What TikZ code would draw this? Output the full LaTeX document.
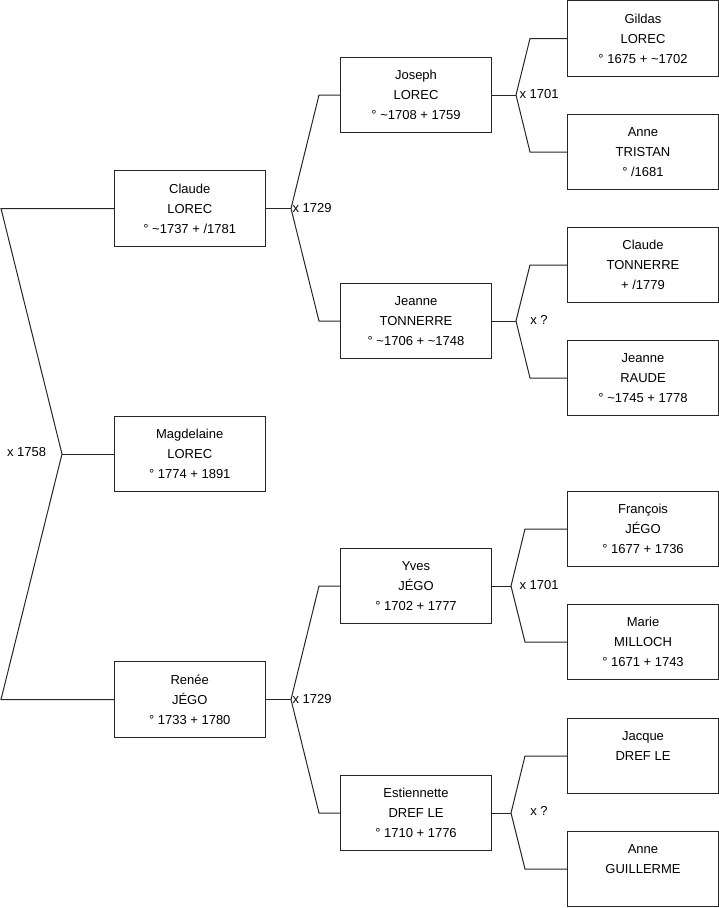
\documentclass[tikz,border=0pt]{standalone}
\usepackage{fontspec}
\setmainfont{Liberation Sans}
\begin{document}
\begin{tikzpicture}[x=1pt,y=-1pt,line width=1pt,black!85,
  every node/.style={font=\fontsize{13}{20}\selectfont,text=black},
  person/.style={draw,minimum width=151pt,minimum height=75.5pt,align=center,inner sep=0pt},
  union/.style={anchor=west,inner sep=1pt}]
\useasboundingbox (0,0) rectangle (719,908);
\node[person] (claude) at (189.75,208.5) {Claude\\LOREC\\° \textasciitilde1737 + /1781};
\node[person] (magd) at (189.75,454) {Magdelaine\\LOREC\\° 1774 + 1891};
\node[person] (renee) at (189.75,699.5) {Renée\\JÉGO\\° 1733 + 1780};
\node[person] (joseph) at (416,95) {Joseph\\LOREC\\° \textasciitilde1708 + 1759};
\node[person] (jeanne) at (416,321) {Jeanne\\TONNERRE\\° \textasciitilde1706 + \textasciitilde1748};
\node[person] (yves) at (416,586) {Yves\\JÉGO\\° 1702 + 1777};
\node[person] (estien) at (416,813) {Estiennette\\DREF LE\\° 1710 + 1776};
\node[person] (gildas) at (643,38.5) {Gildas\\LOREC\\° 1675 + \textasciitilde1702};
\node[person] (anne) at (643,152) {Anne\\TRISTAN\\° /1681};
\node[person] (claudet) at (643,265) {Claude\\TONNERRE\\+ /1779};
\node[person] (jeanner) at (643,378) {Jeanne\\RAUDE\\° \textasciitilde1745 + 1778};
\node[person] (francois) at (643,529) {François\\JÉGO\\° 1677 + 1736};
\node[person] (marie) at (643,642) {Marie\\MILLOCH\\° 1671 + 1743};
\node[person] (jacque) at (643,756) {Jacque\\DREF LE\\\mbox{}};
\node[person] (anneg) at (643,869) {Anne\\GUILLERME\\\mbox{}};
\coordinate (j0) at (62,454);
\coordinate (j0a) at (1,208.5);
\coordinate (j0b) at (1,699.5);
\coordinate (j1) at (291,208.5);
\coordinate (j1a) at (319,95);
\coordinate (j1b) at (319,321);
\coordinate (j2) at (291,699.5);
\coordinate (j2a) at (319,586);
\coordinate (j2b) at (319,813);
\coordinate (j3) at (516,95);
\coordinate (j3a) at (530,38.5);
\coordinate (j3b) at (530,152);
\coordinate (j4) at (516,321);
\coordinate (j4a) at (530,265);
\coordinate (j4b) at (530,378);
\coordinate (j5) at (511,586);
\coordinate (j5a) at (525,529);
\coordinate (j5b) at (525,642);
\coordinate (j6) at (511,813);
\coordinate (j6a) at (525,756);
\coordinate (j6b) at (525,869);
\draw (claude.west) -- (j0a) -- (j0) -- (j0b) -- (renee.west);
\draw (j0) -- (magd.west);
\draw (claude.east) -- (j1);
\draw (joseph.west) -- (j1a) -- (j1) -- (j1b) -- (jeanne.west);
\draw (renee.east) -- (j2);
\draw (yves.west) -- (j2a) -- (j2) -- (j2b) -- (estien.west);
\draw (joseph.east) -- (j3);
\draw (gildas.west) -- (j3a) -- (j3) -- (j3b) -- (anne.west);
\draw (jeanne.east) -- (j4);
\draw (claudet.west) -- (j4a) -- (j4) -- (j4b) -- (jeanner.west);
\draw (yves.east) -- (j5);
\draw (francois.west) -- (j5a) -- (j5) -- (j5b) -- (marie.west);
\draw (estien.east) -- (j6);
\draw (jacque.west) -- (j6a) -- (j6) -- (j6b) -- (anneg.west);
\node[anchor=east] (u0) at (50,452) {x 1758};
\node[union] (u1) at (j1) {x 1729};
\node[union] (u2) at (j2) {x 1729};
\node[union] (u3) at (518,94) {x 1701};
\node[union] (u5) at (518,585) {x 1701};
\node (u4) at (539,320) {x ?};
\node (u6) at (539,811) {x ?};
\end{tikzpicture}
\end{document}
